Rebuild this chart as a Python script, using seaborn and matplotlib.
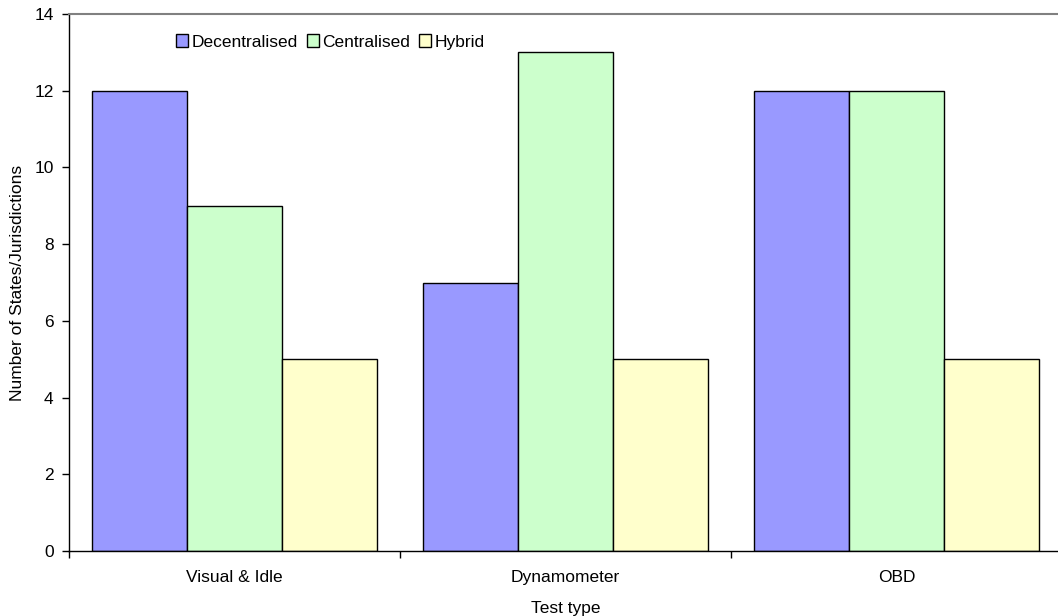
import matplotlib
matplotlib.use('Agg')
import matplotlib.pyplot as plt
import seaborn as sns
import pandas as pd

test_types = ['Visual & Idle', 'Dynamometer', 'OBD']
systems = ['Decentralised', 'Centralised', 'Hybrid']
decentralised = [12, 7, 12]
centralised = [9, 13, 12]
hybrid = [5, 5, 5]
colors = ['#9999FF', '#CCFFCC', '#FFFFCC']

rows = []
for name, values in zip(systems, [decentralised, centralised, hybrid]):
    for t, v in zip(test_types, values):
        rows.append({'test': t, 'system': name, 'count': v})
df = pd.DataFrame(rows)

sns.set_style('white')
plt.rcParams['font.family'] = ['Liberation Sans', 'DejaVu Sans']
plt.rcParams['font.size'] = 12.5
plt.rcParams['text.color'] = 'black'
plt.rcParams['axes.labelcolor'] = 'black'
plt.rcParams['xtick.color'] = 'black'
plt.rcParams['ytick.color'] = 'black'

fig = plt.figure(figsize=(10.58, 6.16), dpi=100)
ax = fig.add_axes([69 / 1058, 65 / 616, 993 / 1058, 537 / 616])

sns.barplot(data=df, x='test', y='count', hue='system', palette=colors,
            width=0.86, gap=0, edgecolor='black', linewidth=1,
            saturation=1, ax=ax)

ax.set_ylim(0, 14)
ax.set_xlim(-0.5, 2.5)
ax.set_yticks(range(0, 15, 2))

# category separators as major ticks, labels on minor ticks
ax.set_xticks([-0.5, 0.5, 1.5, 2.5])
ax.set_xticklabels([])
ax.set_xticks([0, 1, 2], minor=True)
ax.set_xticklabels(test_types, minor=True)
ax.tick_params(axis='x', which='major', bottom=True, length=5, width=1, direction='out')
ax.tick_params(axis='x', which='minor', bottom=True, length=0, pad=14, labelsize=12.5)
ax.tick_params(axis='y', left=True, length=5, width=1, direction='out', pad=6, labelsize=12.5)

ax.set_xlabel('Test type', fontsize=12.5, labelpad=11)
ax.set_ylabel('Number of States/Jurisdictions', fontsize=12.5, labelpad=7)

for side in ['left', 'bottom']:
    ax.spines[side].set_color('black')
    ax.spines[side].set_linewidth(1)
ax.spines['top'].set_color('#808080')
ax.spines['top'].set_linewidth(1.5)
ax.spines['right'].set_visible(False)

ax.legend(loc='upper left', bbox_to_anchor=(0.108, 0.962), ncol=3, frameon=False,
          handlelength=0.7, handleheight=0.7, handletextpad=0.2,
          columnspacing=0.5, borderaxespad=0, borderpad=0, fontsize=12.5)

fig.savefig('out.png', dpi=100)
